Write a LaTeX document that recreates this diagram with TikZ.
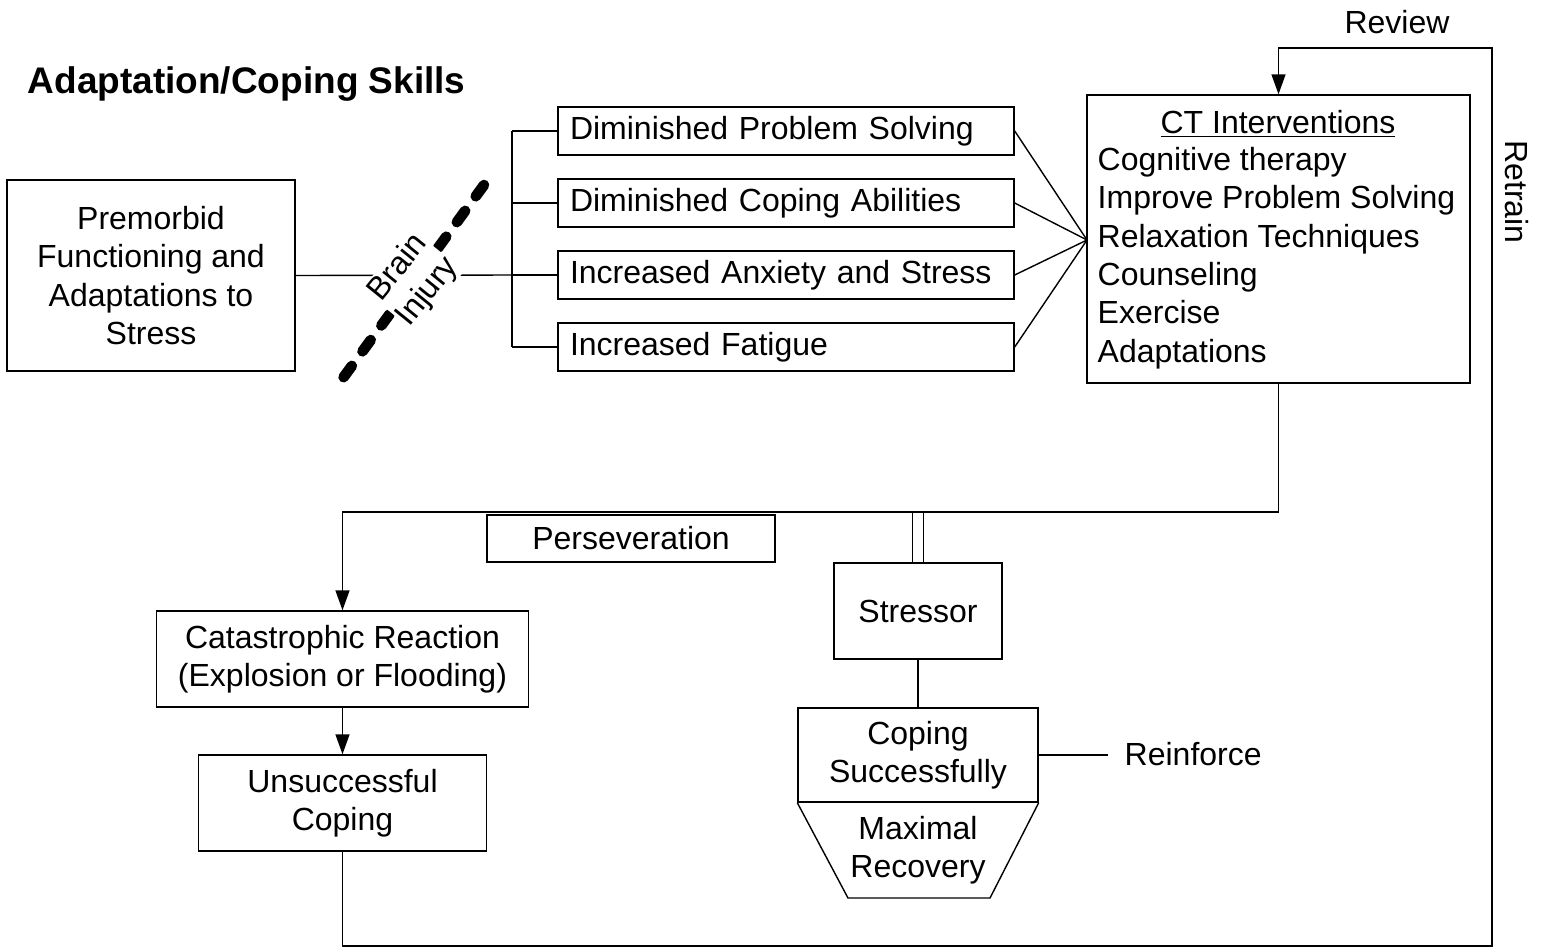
\documentclass[tikz,border=0pt]{standalone}
\usepackage{fontspec}
\setmainfont{Liberation Sans}
\usetikzlibrary{arrows.meta,calc}
\begin{document}
\begin{tikzpicture}[x=0.5pt,y=-0.5pt,
  line width=0.7pt,
  every node/.style={font=\fontsize{16}{19.2}\selectfont},
  box/.style={draw, inner sep=0pt, align=center},
  lbox/.style={draw, inner xsep=6pt, inner ysep=0pt, text width=216pt, align=left, minimum height=24pt},
  arr/.style={-{Triangle[length=10pt,width=7pt]}},
  lbl/.style={inner sep=0pt, align=center}]
\useasboundingbox (0,0) rectangle (1547,948);

\node[lbl, anchor=west, font=\bfseries\fontsize{18.5}{22}\selectfont] (title) at (27,84) {Adaptation/Coping Skills};

% boxes
\node[box, minimum width=144pt, minimum height=95.5pt] (pre) at (151,275.5) {Premorbid\\Functioning and\\Adaptations to\\Stress};
\node[lbox] (d1) at (786,131) {Diminished Problem Solving};
\node[lbox] (d2) at (786,203) {Diminished Coping Abilities};
\node[lbox] (d3) at (786,275) {Increased Anxiety and Stress};
\node[lbox] (d4) at (786,347) {Increased Fatigue};
\node[box, minimum width=191.5pt, minimum height=144pt] (ct) at (1278.5,239) {};
\node[lbl] (cttitle) at (1278,124) {\underline{CT Interventions}};
\node[lbl, anchor=west, align=left] (ctlist) at (1097,258) {Cognitive therapy\\Improve Problem Solving\\Relaxation Techniques\\Counseling\\Exercise\\Adaptations};
\node[box, minimum width=144pt, minimum height=23.5pt] (pers) at (631,538.5) {Perseveration};
\node[box, minimum width=84pt, minimum height=48pt] (str) at (918,611) {Stressor};
\node[box, minimum width=120pt, minimum height=47pt] (cop) at (918,755) {Coping\\Successfully};
\node[box, minimum width=186pt, minimum height=48pt] (cat) at (342.5,659) {Catastrophic Reaction\\(Explosion or Flooding)};
\node[box, minimum width=144pt, minimum height=48pt] (uns) at (342.5,803) {Unsuccessful\\Coping};

% trapezoid
\coordinate (tbl) at (848,898);
\coordinate (tbr) at (990,898);
\draw (cop.south west) -- (tbl) -- (tbr) -- (cop.south east);
\node[lbl] (maxrec) at (918,850) {Maximal\\Recovery};

% labels
\node[lbl] (review) at (1397,22) {Review};
\node[lbl, rotate=-90] (retrain) at (1517,192) {Retrain};
\node[lbl, anchor=west] (reinf) at (1124,754) {Reinforce};

% bracket
\coordinate (bj) at (512,275);
\coordinate (bt) at (512,131);
\coordinate (bb) at (512,347);
\draw (pre.east) -- (bj);
\draw (bt) -- (bb);
\draw (bt) -- (d1.west);
\draw (512,203) coordinate (b2) -- (d2.west);
\draw (bj) -- (d3.west);
\draw (bb) -- (d4.west);

% converge
\coordinate (cw) at (1087,240);
\foreach \n in {d1,d2,d3,d4} \draw (\n.east) -- (cw);

% brain injury
\coordinate (bu) at (484,185);
\coordinate (bl) at (343,378);
\draw[line width=5.3pt, line cap=round, dash pattern=on 7pt off 9pt] (bu) -- (bl);
\node[lbl, rotate=51, fill=white, inner sep=0pt] (bi) at (413,280) {Brain\\Injury};

% lower flow
\coordinate (ctd) at (ct.south |- 0,512);
\coordinate (catu) at (cat.north |- 0,512);
\coordinate (strj) at (str.north |- 0,513);
\draw[double, double distance=5pt, line width=0.7pt] (strj) -- (str.north);
\draw[arr] (ct.south) -- (ctd) -- (catu) -- (cat.north);
\draw[arr] (cat.south) -- (uns.north);
\draw (str.south) -- (cop.north);
\coordinate (ce) at (1108,755);
\draw (cop.east) -- (ce);

% retrain loop
\coordinate (l1) at (uns.south |- 0,946);
\coordinate (l2) at (1492,946);
\coordinate (l3) at (1492,48);
\coordinate (l4) at (ct.north |- 0,48);
\draw[arr] (uns.south) -- (l1) -- (l2) -- (l3) -- (l4) -- (ct.north);
\end{tikzpicture}
\end{document}
